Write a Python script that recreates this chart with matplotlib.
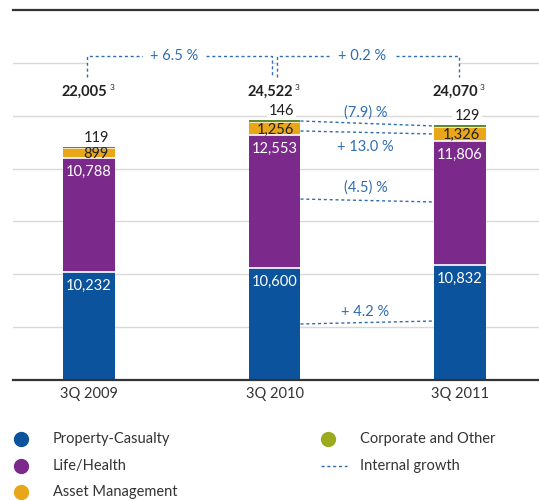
import matplotlib
matplotlib.use('Agg')
import matplotlib.pyplot as plt
from matplotlib.lines import Line2D
from matplotlib.patches import Rectangle

plt.rcParams['font.family'] = ['Lato', 'DejaVu Sans']

# ---------------- data ----------------
periods = ['3Q 2009', '3Q 2010', '3Q 2011']
property_casualty = [10232, 10600, 10832]
life_health = [10788, 12553, 11806]
asset_management = [899, 1256, 1326]
corporate_other = [119, 146, 129]
totals = [22005, 24522, 24070]

period_growth = ['+ 6.5 %', '+ 0.2 %']
segment_growth_labels = ['(7.9) %', '+ 13.0 %', '(4.5) %', '+ 4.2 %']
segment_growth_label_y = [25260, 22040, 18160, 6430]
segment_growth_line_y = [(24500, 24030), (23555, 23270), (17120, 16840), (5300, 5580)]

legend_labels = ['Property-Casualty', 'Life/Health', 'Asset Management',
                 'Corporate and Other', 'Internal growth']

# ---------------- style ----------------
C_BLUE = '#0b539c'
C_PURPLE = '#7b2a8c'
C_ORANGE = '#e8a618'
C_GREEN = '#5f8b2c'
C_GREEN_LEG = '#9aab1c'
C_DASH = '#2f6db0'
C_TXT = '#222222'

fig = plt.figure(figsize=(5.39, 5.01), dpi=100)
ax = fig.add_axes([13/539, 121/501, 526/539, 370/501])

x = list(range(len(periods)))
w = 0.28

segments = [(property_casualty, C_BLUE), (life_health, C_PURPLE),
            (asset_management, C_ORANGE), (corporate_other, C_GREEN)]
bottoms = [0]*len(x)
tops_per_seg = []
for vals, col in segments:
    ax.bar(x, vals, w, bottom=bottoms, color=col, linewidth=0, zorder=3)
    new_b = [b + v for b, v in zip(bottoms, vals)]
    tops_per_seg.append((list(bottoms), new_b))
    bottoms = new_b

# white separators between segments
sep_widths = [1.2, 1.2, 0.5]
for k, lw in enumerate(sep_widths):
    for i in x:
        ax.plot([i - w/2, i + w/2], [tops_per_seg[k][1][i]]*2, color='white',
                linewidth=lw, solid_capstyle='butt', zorder=4)

ax.set_xlim(-0.41, 2.426)
ax.set_ylim(0, 35000)
ax.set_yticks(range(5000, 35000, 5000))
ax.yaxis.grid(True, color='#d9d9d9', linewidth=1, zorder=0)
ax.set_axisbelow(True)
ax.tick_params(axis='y', left=False, labelleft=False)
ax.set_xticks(x)
ax.set_xticklabels(periods, fontsize=10.5, color='#333333')
ax.tick_params(axis='x', length=0, pad=5)
for s in ['left', 'right']:
    ax.spines[s].set_visible(False)
ax.spines['bottom'].set_color('#333333')
ax.spines['bottom'].set_linewidth(1.6)
ax.spines['top'].set_color('#333333')
ax.spines['top'].set_linewidth(1.6)
ax.spines['bottom'].set_zorder(5)

# segment labels
fs = 10.5
for i in x:
    ax.annotate(f"{property_casualty[i]:,}", (i, tops_per_seg[0][1][i]),
                xytext=(0, -10), textcoords='offset points', ha='center',
                va='center', color='white', fontsize=fs, zorder=6)
    ax.annotate(f"{life_health[i]:,}", (i, tops_per_seg[1][1][i]),
                xytext=(0, -10), textcoords='offset points', ha='center',
                va='center', color='white', fontsize=fs, zorder=6)
    mid_o = (tops_per_seg[2][0][i] + tops_per_seg[2][1][i]) / 2
    ax.annotate(f"{asset_management[i]:,}", (i + w/2, mid_o),
                xytext=(-4.5, -1), textcoords='offset points', ha='right',
                va='center', color=C_TXT, fontsize=fs, zorder=6)
    ax.annotate(f"{corporate_other[i]:,}", (i + w/2, tops_per_seg[3][1][i]),
                xytext=(-4.5, 6.5), textcoords='offset points', ha='right',
                va='center', color=C_TXT, fontsize=fs, zorder=2.5,
                bbox=dict(boxstyle='square,pad=0.15', fc='white', ec='none'))
    ax.annotate(f"{totals[i]:,}", (i, 27240), xytext=(13, 0),
                textcoords='offset points', ha='right', va='center',
                color=C_TXT, fontsize=10.5, fontweight='bold', zorder=6)
    ax.annotate("3", (i, 27240), xytext=(14.5, 3),
                textcoords='offset points', ha='left', va='center',
                color=C_TXT, fontsize=6, zorder=6)

# period growth brackets
dash_kw = dict(color=C_DASH, linewidth=1, linestyle=(0, (2.2, 2.0)), zorder=4)
y_lo, y_hi = 28660, 30650
for j, lab in enumerate(period_growth):
    x0 = x[j] - 0.012 if j == 0 else x[j] + 0.012
    x1 = x[j+1] - 0.012 if j == 0 else x[j+1] - 0.005
    ax.add_patch(Rectangle((x0, y_lo), x1 - x0, y_hi - y_lo, fc='white',
                           ec='none', zorder=1))
    ax.plot([x0, x0, x1, x1], [y_lo, y_hi, y_hi, y_lo], **dash_kw)
    ax.text((x0 + x1) / 2 - 0.03, y_hi, lab, ha='center', va='center',
            color=C_DASH, fontsize=10.5, zorder=6,
            bbox=dict(boxstyle='square,pad=0.5', fc='white', ec='none'))

# segment growth connectors between 3Q 2010 and 3Q 2011
xa, xb = x[1] + w/2, x[2] - w/2
for lab, ly, (y0, y1) in zip(segment_growth_labels, segment_growth_label_y,
                             segment_growth_line_y):
    ax.plot([xa, xb], [y0, y1], **dash_kw)
    ax.text((xa + xb) / 2 - 0.01, ly, lab, ha='center', va='center',
            color=C_DASH, fontsize=10.5, zorder=6)

# legend (manual)
def fx(px):
    return px / 539
def fy(py):
    return 1 - py / 501

leg_items = [(21, 439, C_BLUE, legend_labels[0], 53),
             (21, 466, C_PURPLE, legend_labels[1], 53),
             (21, 492, C_ORANGE, legend_labels[2], 53),
             (328, 439, C_GREEN_LEG, legend_labels[3], 360)]
for cx, cy, col, lab, tx in leg_items:
    fig.add_artist(Line2D([fx(cx)], [fy(cy)], marker='o', markersize=10,
                          color=col, linestyle='none',
                          transform=fig.transFigure))
    fig.text(fx(tx), fy(cy), lab, ha='left', va='center', fontsize=10.5,
             color='#333333')
fig.add_artist(Line2D([fx(321), fx(347)], [fy(466), fy(466)],
                      color=C_DASH, linewidth=1, linestyle=(0, (2.2, 2.0)),
                      transform=fig.transFigure))
fig.text(fx(360), fy(466), legend_labels[4], ha='left', va='center',
         fontsize=10.5, color='#333333')

fig.savefig('out.png', dpi=100)
